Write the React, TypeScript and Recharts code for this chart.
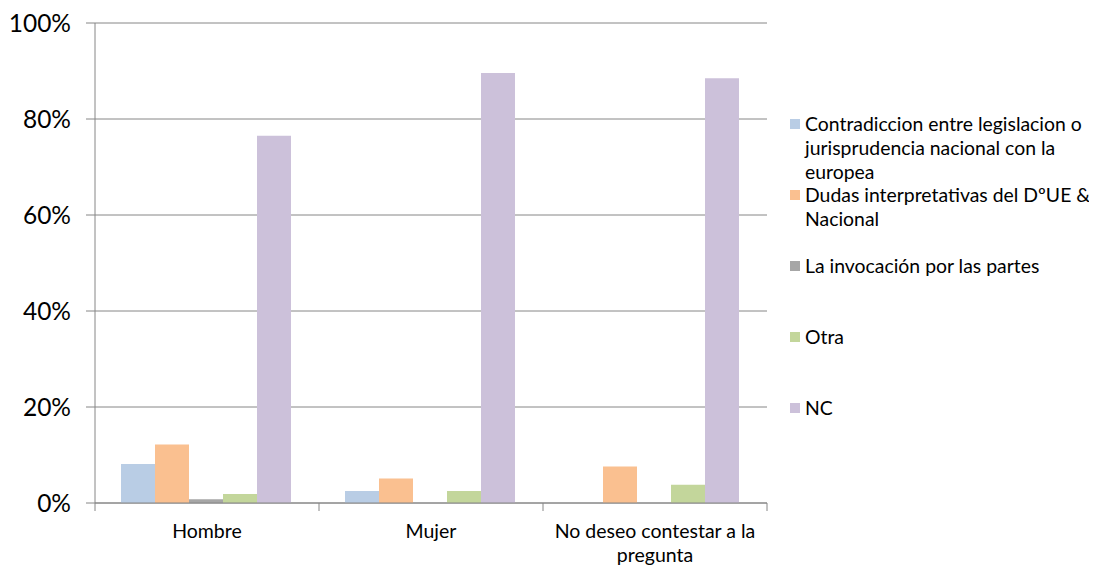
import React from 'react';
import { BarChart, Bar, XAxis, YAxis, CartesianGrid, Legend } from 'recharts';

const categories = ['Hombre', 'Mujer', 'No deseo contestar a la pregunta'];
const categoryLines = [['Hombre'], ['Mujer'], ['No deseo contestar a la', 'pregunta']];
const contradiccion = [8.1, 2.5, 0];
const dudas = [12.2, 5.1, 7.6];
const invocacion = [0.8, 0, 0];
const otra = [1.9, 2.5, 3.8];
const nc = [76.5, 89.6, 88.5];
const yTicks = [0, 20, 40, 60, 80, 100];

const seriesNames = [
  'Contradiccion entre legislacion o jurisprudencia nacional con la europea',
  'Dudas interpretativas del DºUE & Nacional',
  'La invocación por las partes',
  'Otra',
  'NC',
];
const legendLines = [
  ['Contradiccion entre legislacion o', 'jurisprudencia nacional con la', 'europea'],
  ['Dudas interpretativas del DºUE &', 'Nacional'],
  ['La invocación por las partes'],
  ['Otra'],
  ['NC'],
];
const colors = ['#B9CDE5', '#FAC090', '#A6A6A6', '#C3D69B', '#CCC1DA'];
const keys = ['s0', 's1', 's2', 's3', 's4'];

const data = categories.map((c, i) => ({
  name: c,
  s0: contradiccion[i],
  s1: dudas[i],
  s2: invocacion[i],
  s3: otra[i],
  s4: nc[i],
}));

const FONT = 'Lato, "Open Sans", sans-serif';
const GRID = '#868686';

const XTick = (props: any) => {
  const { x, y, payload, index, visibleTicksCount } = props;
  const half = payload && payload.offset ? payload.offset : 112;
  const lines = categoryLines[index] || [String(payload.value)];
  return (
    <g>
      <line x1={x - half} x2={x - half} y1={y - 8} y2={y} stroke={GRID} />
      {index === (visibleTicksCount ?? 3) - 1 && (
        <line x1={x + half} x2={x + half} y1={y - 8} y2={y} stroke={GRID} />
      )}
      <text x={x} y={y + 27} textAnchor="middle" fontSize={19.5} fontFamily={FONT} fill="#000">
        {lines.map((l: string, j: number) => (
          <tspan key={j} x={x} dy={j === 0 ? 0 : 24}>
            {l}
          </tspan>
        ))}
      </text>
    </g>
  );
};

const renderLegend = () => (
  <div style={{ position: 'relative', width: 315, height: 320, fontFamily: FONT, fontSize: 19.4, color: '#000' }}>
    {legendLines.map((lines, i) => (
      <div key={i} style={{ position: 'absolute', left: 0, top: i * 71, display: 'flex' }}>
        <div style={{ width: 10, height: 10, background: colors[i], marginTop: 7, marginRight: 5, flexShrink: 0 }} />
        <div style={{ lineHeight: '24px', whiteSpace: 'nowrap' }} title={seriesNames[i]}>
          {lines.map((l, j) => (
            <div key={j}>{l}</div>
          ))}
        </div>
      </div>
    ))}
  </div>
);

export default function App() {
  return (
    <BarChart
      width={1089}
      height={559}
      data={data}
      margin={{ top: 15, right: 330, bottom: 4, left: 0 }}
      barGap={0}
      barCategoryGap={26}
    >
      <CartesianGrid vertical={false} stroke={GRID} />
      <XAxis
        dataKey="name"
        axisLine={{ stroke: GRID }}
        tickLine={false}
        tick={<XTick />}
        height={60}
        interval={0}
      />
      <YAxis
        domain={[0, 100]}
        ticks={yTicks}
        tickFormatter={(v: number) => `${v}%`}
        width={87}
        axisLine={{ stroke: GRID }}
        tickLine={{ stroke: GRID }}
        tickSize={9}
        tickMargin={15}
        tick={{ fill: '#000', fontSize: 24.5, fontFamily: FONT }}
      />
      <Legend
        layout="horizontal"
        verticalAlign="middle"
        align="center"
        content={renderLegend}
        wrapperStyle={{ position: 'absolute', left: 782, top: 104, width: 315, height: 330 }}
      />
      {keys.map((k, i) => (
        <Bar key={k} dataKey={k} name={seriesNames[i]} fill={colors[i]} isAnimationActive={false} />
      ))}
    </BarChart>
  );
}
